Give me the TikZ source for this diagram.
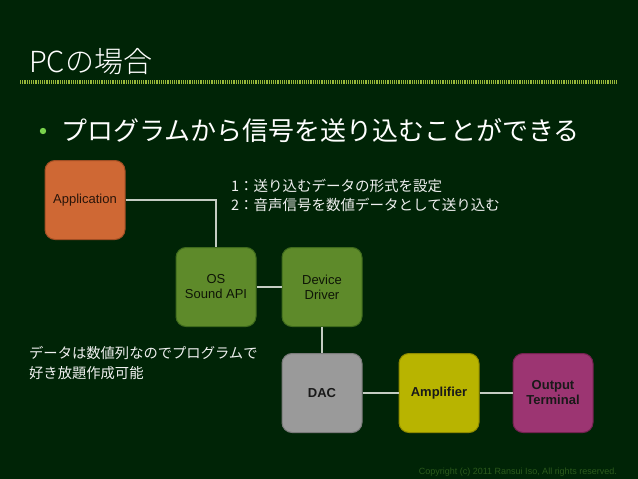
\documentclass[tikz,border=0pt]{standalone}
\usepackage{fontspec}
\setmainfont{Liberation Sans}
\newfontfamily\jp{Noto Sans CJK JP}
\newfontfamily\jplight{Noto Sans CJK JP Light}
\definecolor{bg}{HTML}{002406}
\definecolor{linec}{HTML}{C4CCC2}
\definecolor{appc}{HTML}{CF6834}
\definecolor{appb}{HTML}{A04E24}
\definecolor{grc}{HTML}{5E8A2A}
\definecolor{grb}{HTML}{3E6A1C}
\definecolor{dacc}{HTML}{9A9A9A}
\definecolor{dacb}{HTML}{7A7A7A}
\definecolor{ampc}{HTML}{B8B400}
\definecolor{ampb}{HTML}{8E8A00}
\definecolor{outc}{HTML}{9C3572}
\definecolor{outb}{HTML}{72224F}
\definecolor{stripe}{HTML}{98B83A}
\definecolor{copyc}{HTML}{2C5A1C}
\tikzset{
  blk/.style={rounded corners=10pt, line width=1pt, minimum width=80pt, minimum height=79pt,
    inner sep=0pt, align=center, font=\fontsize{13}{15}\selectfont},
  conn/.style={draw=linec, line width=2pt},
  jtext/.style={text=white!88!gray, anchor=west, inner sep=0pt, font=\jp\fontsize{14.5}{19}\selectfont, align=left},
}
\begin{document}
\begin{tikzpicture}[x=1pt,y=-1pt]
\fill[bg] (0,0) rectangle (638,479);
\useasboundingbox (0,0) rectangle (638,479);
% title
\node[anchor=base west, inner sep=0pt, text=white, font=\jplight\fontsize{29}{34}\selectfont] (title) at (29,72) {PCの場合};
\draw[stripe, line width=4pt, dash pattern=on 1.2pt off 1pt] (20,82) -- (617,82);
% bullet
\fill[green!50!olive!70!white] (43,131) circle (3.2);
\node[anchor=west, inner sep=0pt, text=white, font=\jp\fontsize{26}{30}\selectfont] (bullet) at (61,131) {プログラムから信号を送り込むことができる};
% boxes
\node[blk, fill=appc, draw=appb, text=black!80!appc] (app) at (85,200) {Application};
\node[blk, fill=grc, draw=grb, text=black!85!grc] (os) at (216,287) {OS\\Sound API};
\node[blk, fill=grc, draw=grb, text=black!85!grc] (dd) at (322,287) {Device\\Driver};
\node[blk, fill=dacc, draw=dacb, text=black!90, font=\bfseries\fontsize{13}{15}\selectfont] (dac) at (322,393) {DAC};
\node[blk, fill=ampc, draw=ampb, text=black!90, font=\bfseries\fontsize{13}{15}\selectfont] (amp) at (439,393) {Amplifier};
\node[blk, fill=outc, draw=outb, text=black!90, font=\bfseries\fontsize{13}{15}\selectfont] (out) at (553,393) {Output\\Terminal};
% connectors
\draw[conn] (app.east) -| (os.north);
\draw[conn] (os.east) -- (dd.west);
\draw[conn] (dd.south) -- (dac.north);
\draw[conn] (dac.east) -- (amp.west);
\draw[conn] (amp.east) -- (out.west);
% annotations
\node[jtext] (n1) at (231,186) {1：送り込むデータの形式を設定};
\node[jtext] (n2) at (231,205) {2：音声信号を数値データとして送り込む};
\node[jtext, font=\jp\fontsize{14.3}{20}\selectfont] (n3) at (29,353) {データは数値列なのでプログラムで};
\node[jtext, font=\jp\fontsize{14.3}{20}\selectfont] (n4) at (29,373) {好き放題作成可能};
\node[anchor=east, inner sep=0pt, text=copyc, font=\fontsize{9}{10}\selectfont] (copy) at (617,472) {Copyright (c) 2011 Ransui Iso, All rights reserved.};
\end{tikzpicture}
\end{document}
